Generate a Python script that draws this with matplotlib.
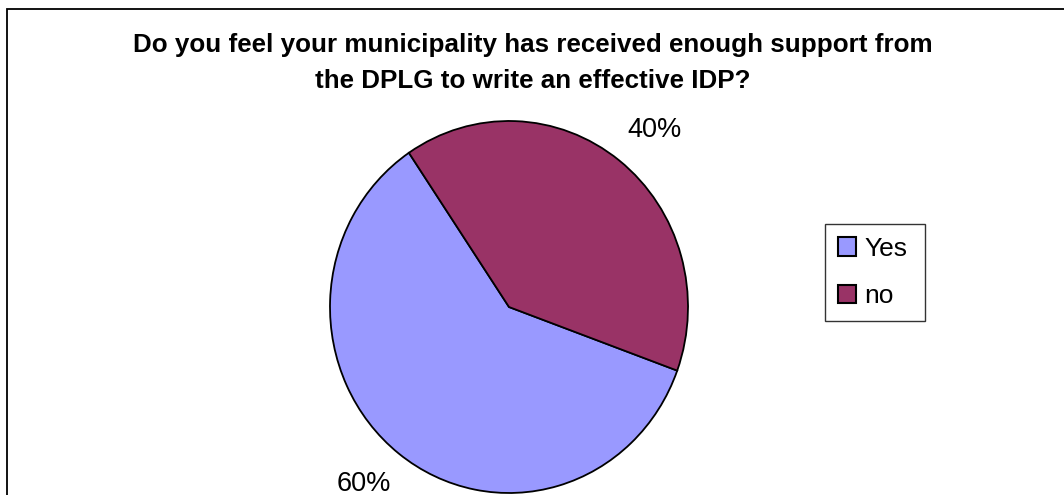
import matplotlib
matplotlib.use("Agg")
import numpy as np
import matplotlib.pyplot as plt
from matplotlib.patches import Rectangle, Patch

plt.rcParams['font.family'] = ['Liberation Sans', 'DejaVu Sans']

title = "Do you feel your municipality has received enough support from\nthe DPLG to write an effective IDP?"
labels = ["Yes", "no"]
shares = [60, 40]
colors = ["#9999FF", "#993366"]

W, H = 1064, 495
fig = plt.figure(figsize=(W / 100, H / 100), dpi=100)

# chart area border (runs off the right and bottom edges)
fig.patches.append(Rectangle((7 / W, -0.1), 1.2, 1 - 9 / H + 0.1,
                             transform=fig.transFigure, fill=False,
                             edgecolor="black", linewidth=1.3))

fig.text(533 / W, 1 - 63 / H, title, ha="center", va="center",
         fontsize=18.7, fontweight="bold", linespacing=1.68)

# pie placed in pixel box, slightly taller than wide
ax = fig.add_axes([330 / W, 2 / H, 358 / W, 372 / H])
wedges, _, pcts = ax.pie(shares, colors=colors, startangle=124,
                         autopct="%.0f%%", pctdistance=1.25,
                         wedgeprops=dict(edgecolor="black", linewidth=1.3))
ax.set_aspect("auto")
ax.set_xlim(-1.0, 1.0)
ax.set_ylim(-1.0, 1.0)
for w, t in zip(wedges, pcts):
    w.set_clip_on(False)
    # percentage labels sit just outside the rim, a little behind mid-slice
    mid = np.deg2rad((w.theta1 + w.theta2) / 2 - 2.5)
    t.set_position((1.25 * np.cos(mid), 1.25 * np.sin(mid)))
    t.set_fontsize(19.5)
    t.set_clip_on(False)

handles = [Patch(facecolor=c, edgecolor="black", linewidth=1.5) for c in colors]
leg = fig.legend(handles, labels, loc="upper left", mode="expand",
                 bbox_to_anchor=(825 / W, 1 - 322 / H, 100 / W, 98 / H),
                 borderaxespad=0, fontsize=19, frameon=True, fancybox=False,
                 edgecolor="black", handlelength=0.7, handleheight=0.7,
                 handletextpad=0.3, labelspacing=0.9, borderpad=0.48)
leg.get_frame().set_linewidth(1.0)

fig.savefig("out.png", dpi=100)
